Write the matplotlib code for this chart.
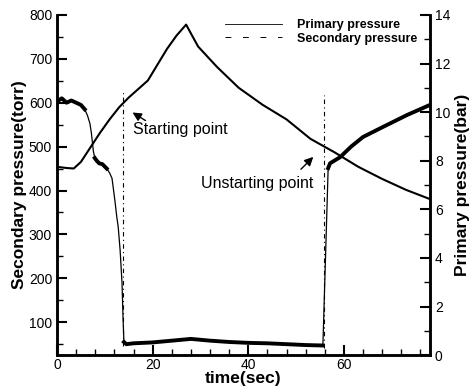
import matplotlib
matplotlib.use('Agg')
import matplotlib.pyplot as plt
import numpy as np
from matplotlib.lines import Line2D

plt.rcParams['font.family'] = ['Liberation Sans', 'DejaVu Sans']

# primary pressure (bar) vs time (sec)
t_pri = [0, 2, 3.5, 5, 7, 9, 11, 13, 15, 17, 19, 21, 23, 25, 27,
         29.5, 33.5, 38, 43, 48, 53, 58, 63, 68, 73, 78]
p_pri = [7.75, 7.7, 7.68, 7.95, 8.55, 9.15, 9.7, 10.2, 10.6, 10.95, 11.3, 11.95, 12.6, 13.15, 13.6,
         12.7, 11.85, 11.0, 10.3, 9.7, 8.9, 8.35, 7.75, 7.25, 6.8, 6.42]

# secondary pressure (torr) vs time (sec)
t_sec = [0.3, 1, 2, 3, 4, 5, 5.8, 6.4, 6.9, 7.2, 7.4, 7.6, 7.9, 8.3, 8.8, 9.5, 10.4, 11,
         11.5, 12.1, 12.5, 12.8, 13.2, 13.6, 13.8, 14.0, 14.5, 16, 20, 24, 28, 32, 36, 40,
         44, 48, 52, 55.6, 56.7, 57.1, 59.2, 61.5, 64, 68.2, 73.2, 78]
p_sec = [605, 610, 600, 605, 600, 595, 585, 570, 552, 530, 510, 490, 474, 468, 462, 460, 450, 440,
         428, 378, 340, 317, 264, 189, 112, 55, 50, 52, 54, 58, 62, 58, 55, 53,
         52, 50, 48, 47, 451, 462, 476, 500, 522, 545, 572, 595]

# start / unstart events
t_start, t_unstart = 13.8, 55.8

fig = plt.figure(figsize=(4.71, 3.92), dpi=100)
ax = fig.add_axes([0.121, 0.094, 0.792, 0.868])
ax2 = ax.twinx()

t_sec = np.array(t_sec)
p_sec = np.array(p_sec)
ax.plot(t_sec, p_sec, color='black', lw=0.9)
noisy = [(t_sec <= 5.8), (t_sec >= 14.0) & (t_sec <= 55.6), (t_sec >= 56.7), (t_sec >= 7.9) & (t_sec <= 10.4)]
for m in noisy:
    ax.plot(t_sec[m], p_sec[m], color='black', lw=2.8)

ax.plot([t_start, t_start], [45, 624], color='black', lw=0.8, dashes=(4, 3, 1, 3))
ax.plot([t_unstart, t_unstart], [42, 618], color='black', lw=0.8, dashes=(4, 3, 1, 3))

ax2.plot(t_pri, p_pri, color='black', lw=1.5)

ax.set_xlim(0, 78)
ax.set_ylim(25, 800)
ax2.set_ylim(0, 14)

ax.set_xticks([0, 20, 40, 60])
ax.set_xticks(np.arange(0, 79, 4), minor=True)
ax.set_yticks(np.arange(100, 801, 100))
ax.set_yticks(np.arange(50, 801, 50), minor=True)
ax2.set_yticks(np.arange(0, 15, 2))
ax2.set_yticks(np.arange(0, 15, 1), minor=True)

for a in (ax, ax2):
    a.tick_params(which='major', direction='in', length=7, width=1.5, labelsize=10)
    a.tick_params(which='minor', direction='in', length=4, width=1)
    a.spines['top'].set_visible(False)
    for s in ('left', 'right', 'bottom'):
        a.spines[s].set_linewidth(1.8)
ax.tick_params(axis='x', pad=2)

ax.set_xlabel('time(sec)', fontsize=12.5, fontweight='bold', labelpad=-1)
ax.set_ylabel('Secondary pressure(torr)', fontsize=12.5, fontweight='bold', labelpad=1)
ax2.set_ylabel('Primary pressure(bar)', fontsize=12.5, fontweight='bold', labelpad=3)

ax.annotate('', xy=(15.3, 581), xytext=(19.0, 556),
            arrowprops=dict(arrowstyle='-|>', color='black', lw=1.0, mutation_scale=13))
ax.text(15.9, 538, 'Starting point', fontsize=11.5, ha='left', va='center')
ax.annotate('', xy=(54.0, 481), xytext=(50.6, 444),
            arrowprops=dict(arrowstyle='-|>', color='black', lw=1.0, mutation_scale=13))
ax.text(53.6, 415, 'Unstarting point', fontsize=11.5, ha='right', va='center')

handles = [Line2D([], [], color='black', lw=0.6),
           Line2D([], [], color='black', lw=0.7, dashes=(6, 12))]
ax.legend(handles, ['Primary pressure', 'Secondary pressure'], loc='upper left',
          bbox_to_anchor=(0.42, 1.02), frameon=False, handlelength=4.6, handletextpad=1.2,
          labelspacing=0.1, prop={'weight': 'bold', 'size': 9})

fig.savefig('out.png', dpi=100)
